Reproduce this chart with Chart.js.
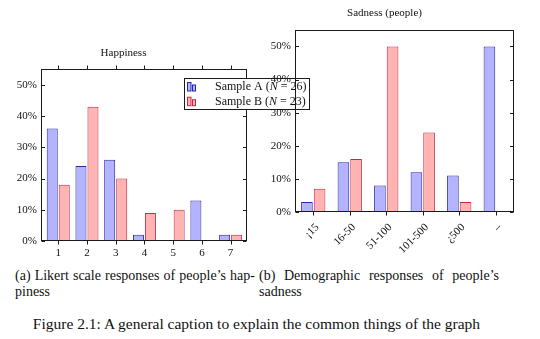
<!DOCTYPE html>
<html>
<head>
<meta charset="utf-8">
<script src="https://cdn.jsdelivr.net/npm/chart.js@4/dist/chart.umd.min.js"></script>
<style>
  html, body { margin:0; padding:0; background:#fff; }
  body { width:540px; height:339px; position:relative; overflow:hidden; font-family:"Liberation Serif", "Times New Roman", serif; color:#111; }
  canvas { position:absolute; top:0; }
  #c1 { left:0; z-index:1; }
  #c2 { left:255px; z-index:2; }
  .cap { position:absolute; font-size:14px; line-height:16.4px; width:240px; white-space:nowrap; }
  .cap .j { text-align:justify; text-align-last:justify; white-space:normal; }
  .fig { position:absolute; left:0; width:513px; text-align:center; top:315px; font-size:15.5px; line-height:18px; white-space:nowrap; }
</style>
</head>
<body>
<canvas id="c1" width="320" height="270"></canvas>
<canvas id="c2" width="285" height="270"></canvas>
<div class="cap" style="left:15px; top:268px;"><div class="j">(a) Likert scale responses of people’s hap-</div><div>piness</div></div>
<div class="cap" style="left:259px; top:268px;"><div class="j">(b) Demographic responses of people’s</div><div>sadness</div></div>
<div class="fig">Figure 2.1: A general caption to explain the common things of the graph</div>
<script>
// ---- data ----
const happyCats = [1, 2, 3, 4, 5, 6, 7];
const happyA = [36, 24, 26, 2, 0, 13, 2];
const happyB = [18, 43, 20, 9, 10, 0, 2];

const sadCats = ['¡15', '16-50', '51-100', '101-500', '¿500', '–'];
const sadA = [3, 15, 8, 12, 11, 50];
const sadB = [7, 16, 50, 24, 3, 0];

const yTicks = [0, 10, 20, 30, 40, 50];
const seriesNames = ['Sample A', 'Sample B'];
const seriesN = [26, 23];

// ---- styles ----
const FONT = '"Liberation Serif"';
const INK = '#111';
const blueFill = 'rgb(179,179,255)', blueLine = 'rgb(40,40,165)';
const redFill = 'rgb(255,179,179)', redLine = 'rgb(190,45,65)';

const framePlugin = {
  id: 'frame',
  afterDatasetsDraw(chart, args, o) {
    const { ctx, chartArea: { left, right, top, bottom } } = chart;
    const x = chart.scales.x, y = chart.scales.y;
    ctx.save();
    ctx.strokeStyle = '#1a1a1a';
    ctx.lineWidth = 1;
    const L = Math.round(left) + 0.5, R = Math.round(right) - 0.5;
    const T = Math.round(top) + 0.5, B = Math.round(bottom) - 0.5;
    ctx.strokeRect(L, T, R - L, B - T);
    ctx.beginPath();
    y.ticks.forEach(t => {
      const py = Math.round(y.getPixelForValue(t.value)) + 0.5;
      ctx.moveTo(L, py); ctx.lineTo(L + 3.5, py);
      ctx.moveTo(R, py); ctx.lineTo(R - 3.5, py);
    });
    x.ticks.forEach((t, i) => {
      const px = Math.round(x.getPixelForTick(i)) + 0.5;
      ctx.moveTo(px, B); ctx.lineTo(px, B + 4);
      if (o.topTicks) { ctx.moveTo(px, T); ctx.lineTo(px, T - 4); }
    });
    ctx.stroke();
    ctx.restore();
  }
};

const legendPlugin = {
  id: 'boxLegend',
  afterDraw(chart, args, o) {
    if (!o.show) return;
    const ctx = chart.ctx;
    const x0 = o.x, y0 = o.y, w = o.w, h = o.h;
    ctx.save();
    ctx.fillStyle = '#fff';
    ctx.fillRect(x0, y0, w, h);
    ctx.strokeStyle = '#1a1a1a';
    ctx.lineWidth = 1;
    ctx.strokeRect(x0 + 0.5, y0 + 0.5, w, h);
    chart.data.datasets.forEach((ds, i) => {
      const cy = y0 + 8.5 + i * 14.7;
      ctx.fillStyle = ds.backgroundColor;
      ctx.strokeStyle = ds.borderColor;
      ctx.fillRect(x0 + 3.5, cy - 4, 3.5, 8.5);
      ctx.strokeRect(x0 + 3.5, cy - 4, 3.5, 8.5);
      ctx.fillRect(x0 + 8.5, cy - 1.5, 3, 6);
      ctx.strokeRect(x0 + 8.5, cy - 1.5, 3, 6);
      ctx.fillStyle = INK;
      ctx.textBaseline = 'middle';
      let tx = x0 + 31;
      const parts = [[ds.label + ' (', false], ['N', true], [' = ' + seriesN[i] + ')', false]];
      parts.forEach(([s, it]) => {
        ctx.font = (it ? 'italic ' : '') + '12px ' + FONT;
        ctx.fillText(s, tx, cy + 0.5);
        tx += ctx.measureText(s).width;
      });
    });
    ctx.restore();
  }
};

function yScale(width) {
  return {
    type: 'linear', min: 0, max: 55,
    grid: { display: false, drawTicks: false },
    border: { display: false },
    afterBuildTicks: s => { s.ticks = yTicks.map(v => ({ value: v })); },
    afterFit: s => { s.width = width; },
    ticks: { padding: 4, color: INK, font: { family: FONT, size: 11 }, callback: v => v + '%' }
  };
}

function build() {
  Chart.register(framePlugin, legendPlugin);

  // ---- left chart ----
  new Chart(document.getElementById('c1'), {
    type: 'bar',
    data: {
      datasets: [
        { label: seriesNames[0], data: happyCats.map((c, i) => ({ x: c, y: happyA[i] })),
          backgroundColor: blueFill, borderColor: blueLine, borderWidth: 1, borderSkipped: false },
        { label: seriesNames[1], data: happyCats.map((c, i) => ({ x: c, y: happyB[i] })),
          backgroundColor: redFill, borderColor: redLine, borderWidth: 1, borderSkipped: false }
      ]
    },
    options: {
      responsive: false, animation: false,
      datasets: { bar: { categoryPercentage: 0.836, barPercentage: 0.917 } },
      layout: { padding: { top: 47, right: 73, left: 0, bottom: 0 } },
      plugins: {
        legend: { display: false }, tooltip: { enabled: false },
        title: { display: true, text: 'Happiness', color: INK, font: { family: FONT, size: 11, weight: 'normal' }, padding: { top: 0, bottom: 9 } },
        frame: { topTicks: true },
        boxLegend: { show: true, x: 184, y: 78, w: 125, h: 31 }
      },
      scales: {
        x: {
          type: 'linear', min: 0.4, max: 7.57, offset: false,
          grid: { display: false, drawTicks: false }, border: { display: false },
          afterBuildTicks: s => { s.ticks = happyCats.map(v => ({ value: v })); },
          afterFit: s => { s.height = 29; },
          ticks: { padding: 6, color: INK, font: { family: FONT, size: 11 }, maxRotation: 0, callback: v => String(v) }
        },
        y: yScale(41)
      }
    }
  });

  // ---- right chart ----
  new Chart(document.getElementById('c2'), {
    type: 'bar',
    data: {
      labels: sadCats,
      datasets: [
        { label: seriesNames[0], data: sadA, backgroundColor: blueFill, borderColor: blueLine, borderWidth: 1, borderSkipped: false },
        { label: seriesNames[1], data: sadB, backgroundColor: redFill, borderColor: redLine, borderWidth: 1, borderSkipped: false }
      ]
    },
    options: {
      responsive: false, animation: false,
      datasets: { bar: { categoryPercentage: 0.693, barPercentage: 0.92 } },
      layout: { padding: { top: 6.7, right: 26, left: 0, bottom: 0 } },
      plugins: {
        legend: { display: false }, tooltip: { enabled: false },
        title: { display: true, text: 'Sadness (people)', color: INK, font: { family: FONT, size: 11, weight: 'normal' }, padding: { top: 0, bottom: 10 } },
        frame: { topTicks: false },
        boxLegend: { show: false }
      },
      scales: {
        x: {
          type: 'category', offset: true,
          grid: { display: false, drawTicks: false }, border: { display: false },
          afterFit: s => { s.height = 58; },
          ticks: { padding: 9, labelOffset: 4, color: INK, font: { family: FONT, size: 11 }, minRotation: 45, maxRotation: 45, autoSkip: false }
        },
        y: yScale(40)
      }
    }
  });
}

Promise.all([
  document.fonts.load('11px "Liberation Serif"'),
  document.fonts.load('italic 12px "Liberation Serif"')
]).then(build, build);
</script>
</body>
</html>
